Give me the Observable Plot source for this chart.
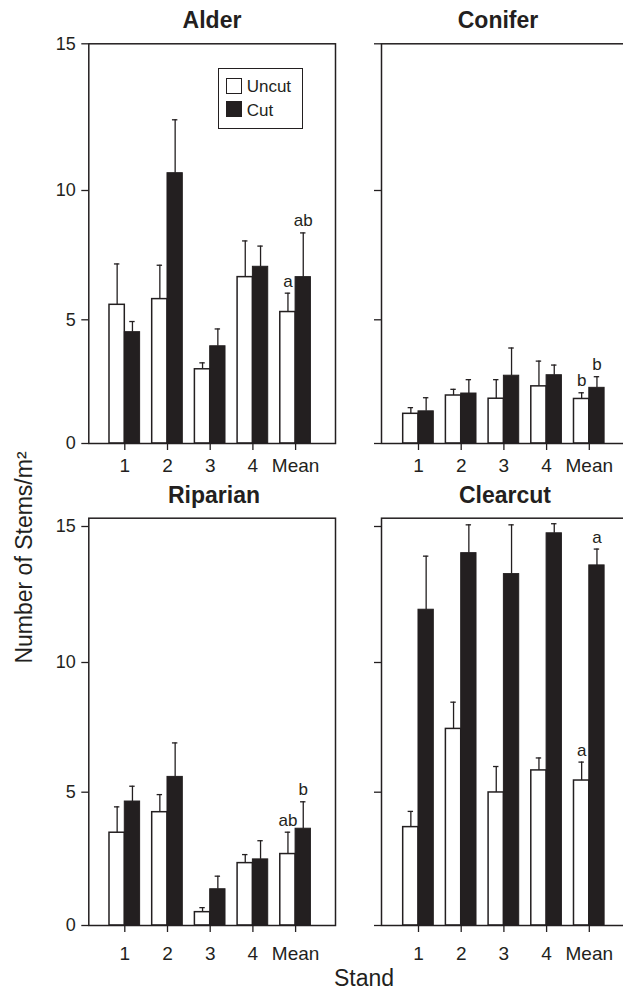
<!DOCTYPE html>
<html><head><meta charset="utf-8">
<script src="https://cdn.jsdelivr.net/npm/d3@7"></script>
<script src="https://cdn.jsdelivr.net/npm/@observablehq/plot@0.6"></script>
<style>
html,body{margin:0;padding:0;background:#fff;overflow:hidden;}
#chart{position:relative;width:623px;height:1001px;overflow:hidden;background:#fff;font-family:'Liberation Sans',Arial,Helvetica,sans-serif;color:#231f20;}
#chart svg{max-width:none !important;background:transparent !important;}
.panel{position:absolute;}
.lbl{position:absolute;white-space:nowrap;line-height:1;}
.title{font-weight:bold;font-size:23px;width:200px;text-align:center;}
.sw{position:absolute;width:16px;height:16px;box-sizing:border-box;border:1.5px solid #231f20;}
</style></head><body><div id="chart"></div>
<script>
// ---- data ----
const stands = ["1", "2", "3", "4", "Mean"];
const treatments = ["Uncut", "Cut"];

const alderUncut    = [5.58, 5.80, 3.00, 6.65, 5.30];
const alderUncutErr = [7.16, 7.11, 3.26, 8.05, 6.03];
const alderCut      = [4.50, 10.59, 3.93, 7.05, 6.65];
const alderCutErr   = [4.93, 12.41, 4.63, 7.85, 8.36];
const alderLetters  = ["a", "ab"];

const coniferUncut    = [1.20, 1.94, 1.81, 2.31, 1.80];
const coniferUncutErr = [1.45, 2.19, 2.58, 3.33, 2.05];
const coniferCut      = [1.30, 2.02, 2.74, 2.76, 2.25];
const coniferCutErr   = [1.85, 2.58, 3.86, 3.17, 2.70];
const coniferLetters  = ["b", "b"];

const riparianUncut    = [3.48, 4.25, 0.50, 2.34, 2.68];
const riparianUncutErr = [4.45, 4.91, 0.67, 2.66, 3.50];
const riparianCut      = [4.65, 5.59, 1.36, 2.48, 3.63];
const riparianCutErr   = [5.23, 6.90, 1.85, 3.18, 4.64];
const riparianLetters  = ["ab", "b"];

const clearcutUncut    = [3.69, 7.44, 4.99, 5.84, 5.45];
const clearcutUncutErr = [4.28, 8.47, 5.99, 6.32, 6.16];
const clearcutCut      = [11.94, 14.02, 13.25, 14.75, 13.57];
const clearcutCutErr   = [13.91, 15.06, 15.06, 15.10, 14.17];
const clearcutLetters  = ["a", "a"];

const yTicks = [0, 5, 10, 15];

// ---- build ----
const ink = "#231f20";
const font = "'Liberation Sans', Arial, Helvetica, sans-serif";
const chart = document.getElementById("chart");

function rows(u, ue, c, ce) {
  return stands.flatMap((s, i) => [
    {stand: s, treatment: treatments[0], value: u[i], err: ue[i]},
    {stand: s, treatment: treatments[1], value: c[i], err: ce[i]}
  ]);
}

const BW = 30.6, HALF = BW / 2, CAP = 2.7;

function panel(data, letters, cfg) {
  const un = data.filter(d => d.treatment === "Uncut");
  const cu = data.filter(d => d.treatment === "Cut");
  const mUn = un.filter(d => d.stand === "Mean").map(d => ({...d, letter: letters[0]}));
  const mCu = cu.filter(d => d.stand === "Mean").map(d => ({...d, letter: letters[1]}));
  const p = Plot.plot({
    width: cfg.width, height: cfg.height,
    marginLeft: cfg.ml, marginRight: cfg.mr, marginTop: cfg.mt, marginBottom: cfg.mb,
    style: {fontFamily: font, color: ink, background: "transparent", maxWidth: "none", overflow: "hidden"},
    x: {type: "band", domain: stands, range: cfg.xRange, paddingInner: 0.283, paddingOuter: 0.1415, align: 0.5, round: false, axis: null},
    y: {type: "linear", domain: cfg.yDomain, range: cfg.yRange, axis: null},
    marks: [
      Plot.barY(un, {x: "stand", y1: 0, y2: "value", fill: "white", stroke: ink, strokeWidth: 1.5, insetRight: HALF}),
      Plot.barY(cu, {x: "stand", y1: 0, y2: "value", fill: ink, stroke: ink, strokeWidth: 1, insetLeft: HALF}),
      Plot.ruleX(un, {x: "stand", y1: "value", y2: "err", dx: -HALF / 2, stroke: ink, strokeWidth: 1.3}),
      Plot.ruleX(cu, {x: "stand", y1: "value", y2: "err", dx: HALF / 2, stroke: ink, strokeWidth: 1.3}),
      Plot.tickY(un, {x: "stand", y: "err", stroke: ink, strokeWidth: 1.3, insetLeft: HALF / 2 - CAP, insetRight: BW - HALF / 2 - CAP}),
      Plot.tickY(cu, {x: "stand", y: "err", stroke: ink, strokeWidth: 1.3, insetLeft: BW - HALF / 2 - CAP, insetRight: HALF / 2 - CAP}),
      Plot.frame({stroke: ink, strokeWidth: 1.5}),
      Plot.text(mUn, {x: "stand", y: "err", text: "letter", dx: -HALF / 2, dy: -12, fontSize: 17, fill: ink}),
      Plot.text(mCu, {x: "stand", y: "err", text: "letter", dx: HALF / 2, dy: -12, fontSize: 17, fill: ink}),
      Plot.axisY({ticks: yTicks, tickSize: 7, tickPadding: 6, fontSize: 18, label: null, strokeWidth: 1.3,
                  tickFormat: cfg.yLabels ? (d => String(d)) : (() => "")}),
      Plot.axisX({tickSize: 7, tickPadding: cfg.xPad, fontSize: 19, label: null, strokeWidth: 1.3})
    ]
  });
  const wrap = document.createElement("div");
  wrap.className = "panel";
  wrap.style.left = cfg.left + "px";
  wrap.style.top = cfg.top + "px";
  wrap.style.width = cfg.width + "px";
  wrap.style.height = cfg.height + "px";
  wrap.appendChild(p);
  chart.appendChild(wrap);
}

const topY = {yDomain: [0, 5, 10, 15], yRange: [413, 289.3, 160, 13.3], top: 30, height: 460, mt: 13.3, mb: 47, xPad: 8};
const botY = {yDomain: [0, 5, 10, 15, 15.3], yRange: [420, 286.7, 157, 21, 12.7], top: 505, height: 470, mt: 12.7, mb: 50, xPad: 14};
const leftX = {left: 0, width: 345, ml: 88.3, mr: 10, xRange: [102.95, 316.45], yLabels: true};
const rightX = {left: 345, width: 295, ml: 36, mr: 11, xRange: [51.65, 265.15], yLabels: false};

panel(rows(alderUncut, alderUncutErr, alderCut, alderCutErr), alderLetters, {...topY, ...leftX});
panel(rows(coniferUncut, coniferUncutErr, coniferCut, coniferCutErr), coniferLetters, {...topY, ...rightX});
panel(rows(riparianUncut, riparianUncutErr, riparianCut, riparianCutErr), riparianLetters, {...botY, ...leftX});
panel(rows(clearcutUncut, clearcutUncutErr, clearcutCut, clearcutCutErr), clearcutLetters, {...botY, ...rightX});

// ---- text ----
function label(text, cls, css) {
  const d = document.createElement("div");
  d.className = "lbl " + (cls || "");
  d.textContent = text;
  Object.assign(d.style, css);
  chart.appendChild(d);
  return d;
}
label("Alder", "title", {left: "112px", top: "8.5px"});
label("Conifer", "title", {left: "398px", top: "8.5px"});
label("Riparian", "title", {left: "114px", top: "484px"});
label("Clearcut", "title", {left: "405px", top: "484px"});
label("Number of Stems/m²", "", {left: "-176px", top: "545.5px", width: "400px", textAlign: "center", fontSize: "23px", transform: "rotate(-90deg)", transformOrigin: "50% 50%"});
label("Stand", "", {left: "264px", top: "967px", width: "200px", textAlign: "center", fontSize: "23px"});

// legend
const box = document.createElement("div");
Object.assign(box.style, {position: "absolute", left: "217.7px", top: "67.7px", width: "85.6px", height: "61.3px", boxSizing: "border-box", border: "1.5px solid " + ink, background: "white"});
chart.appendChild(box);
const sw1 = document.createElement("div"); sw1.className = "sw";
Object.assign(sw1.style, {left: "225.7px", top: "78.3px", background: "white"});
chart.appendChild(sw1);
const sw2 = document.createElement("div"); sw2.className = "sw";
Object.assign(sw2.style, {left: "225.7px", top: "101px", background: ink});
chart.appendChild(sw2);
label(treatments[0], "", {left: "246.7px", top: "77.5px", fontSize: "17px"});
label(treatments[1], "", {left: "246.7px", top: "101.5px", fontSize: "17px"});
</script>
</body></html>
